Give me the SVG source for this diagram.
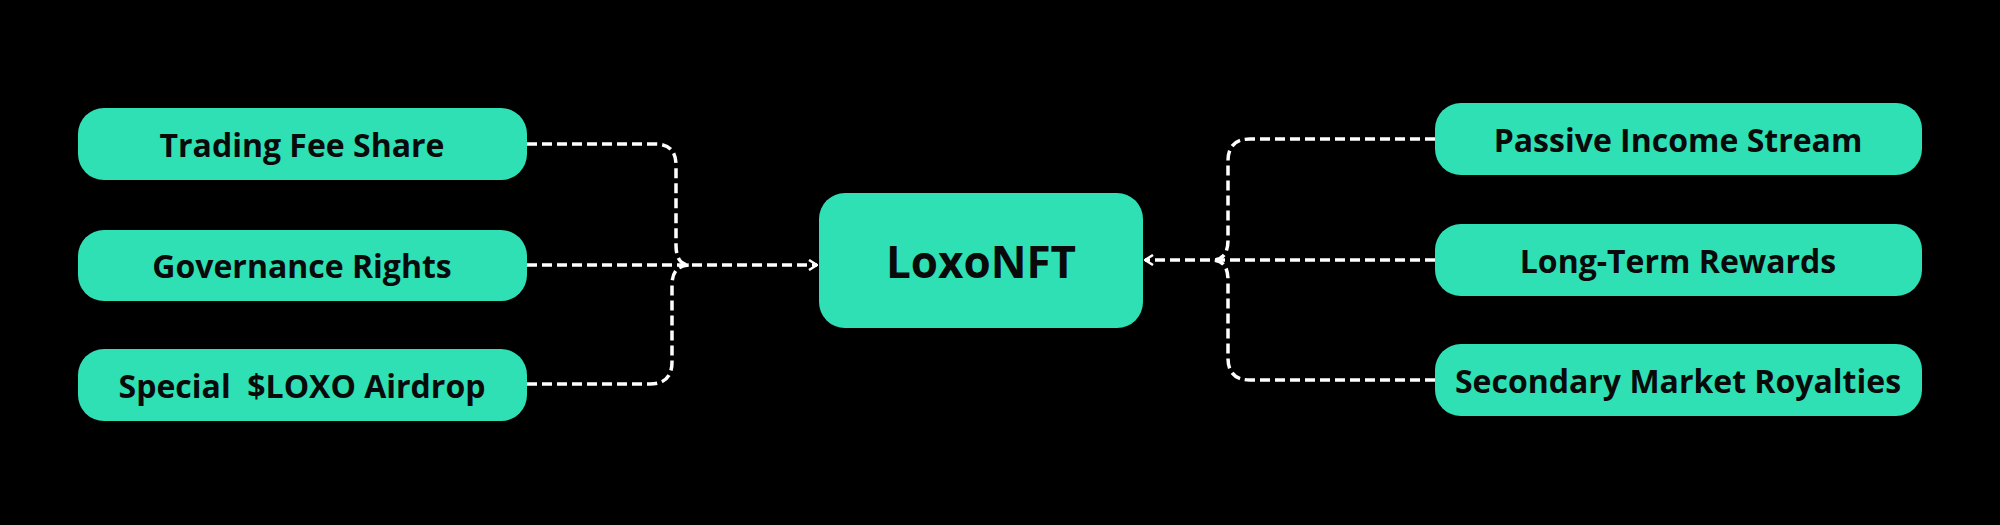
<svg xmlns="http://www.w3.org/2000/svg" width="2000" height="525" viewBox="0 0 2000 525">
<defs>
<style>
.box{fill:#2fe0b4}
.t{font-family:"Open Sans","Liberation Sans",sans-serif;font-weight:700;font-size:32px;fill:#0a0a0a;text-anchor:middle;dominant-baseline:central}
.c{fill:none;stroke:#fff;stroke-width:3.5;stroke-dasharray:10 5}
</style>
<marker id="ah" viewBox="0 0 12 12" refX="11" refY="6" markerWidth="12" markerHeight="12" markerUnits="userSpaceOnUse" orient="auto">
<path d="M3 1 L11 6 L3 11" fill="none" stroke="#fff" stroke-width="2.5"/>
</marker>
</defs>
<rect width="2000" height="525" fill="#000"/>
<g id="connectors">
<path class="c" d="M527 144 H655 Q676 144 676 165 V245 Q676 265 690 265"/>
<path class="c" d="M527 265 H817" marker-end="url(#ah)"/>
<path class="c" d="M527 384 H650 Q672 384 672 362 V285 Q672 265 690 265"/>
<path class="c" d="M1435 139 H1250 Q1228 139 1228 161 V240 Q1228 260 1212 260"/>
<path class="c" d="M1435 260 H1145" marker-end="url(#ah)"/>
<path class="c" d="M1435 380 H1250 Q1228 380 1228 358 V280 Q1228 260 1212 260"/>
</g>
<g id="n1"><rect class="box" x="78" y="108" width="449" height="72" rx="26"/><text class="t" x="302" y="144">Trading Fee Share</text></g>
<g id="n2"><rect class="box" x="78" y="230" width="449" height="71" rx="26"/><text class="t" x="302" y="265">Governance Rights</text></g>
<g id="n3"><rect class="box" x="78" y="349" width="449" height="72" rx="26"/><text class="t" x="302" y="385" xml:space="preserve">Special  $LOXO Airdrop</text></g>
<g id="center"><rect class="box" x="819" y="193" width="324" height="135" rx="26"/><text class="t" x="981" y="261" style="font-size:44px">LoxoNFT</text></g>
<g id="n4"><rect class="box" x="1435" y="103" width="487" height="72" rx="26"/><text class="t" x="1678" y="139">Passive Income Stream</text></g>
<g id="n5"><rect class="box" x="1435" y="224" width="487" height="72" rx="26"/><text class="t" x="1678" y="260">Long-Term Rewards</text></g>
<g id="n6"><rect class="box" x="1435" y="344" width="487" height="72" rx="26"/><text class="t" x="1678" y="380">Secondary Market Royalties</text></g>
</svg>
